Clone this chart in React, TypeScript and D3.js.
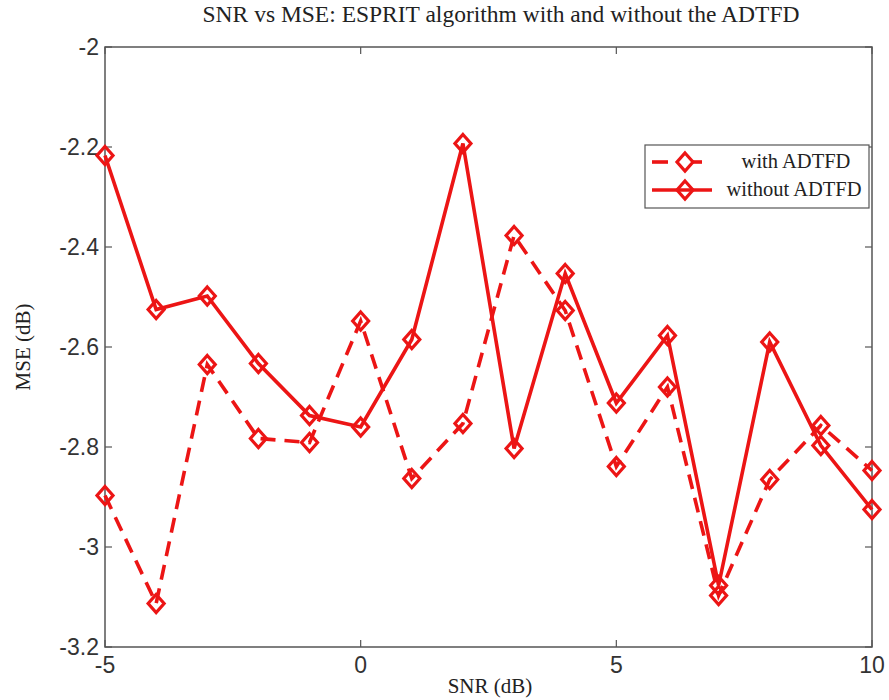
import React from "react";
import * as d3 from "d3";

const snr = [-5, -4, -3, -2, -1, 0, 1, 2, 3, 4, 5, 6, 7, 8, 9, 10];
const withADTFD = [-2.897, -3.113, -2.635, -2.783, -2.791, -2.548, -2.863, -2.753, -2.377, -2.527, -2.839, -2.68, -3.097, -2.865, -2.757, -2.847];
const withoutADTFD = [-2.217, -2.525, -2.498, -2.633, -2.737, -2.76, -2.585, -2.193, -2.803, -2.453, -2.712, -2.577, -3.077, -2.59, -2.797, -2.925];
const xTicks = [-5, 0, 5, 10];
const yTicks = [-2, -2.2, -2.4, -2.6, -2.8, -3, -3.2];
const seriesNames = ["with ADTFD", "without ADTFD"];
const titleText = "SNR vs MSE: ESPRIT algorithm with and without the ADTFD";

const W = 889, H = 700;
const L = 105, R = 872, T = 47, B = 647;
const RED = "#ec1515";
const AX = "#555";

function Diamond({ cx, cy }: { cx: number; cy: number }) {
  const hw = 8, hh = 9;
  return (
    <path
      d={`M${cx},${cy - hh}L${cx + hw},${cy}L${cx},${cy + hh}L${cx - hw},${cy}Z`}
      fill="none"
      stroke={RED}
      strokeWidth={3.2}
    />
  );
}

export default function App() {
  const x = d3.scaleLinear().domain([-5, 10]).range([L, R]);
  const y = d3.scaleLinear().domain([-3.2, -2]).range([B, T]);
  const line = d3.line<number>().x((_, i) => x(snr[i])).y((d) => y(d));
  const serif = "'Liberation Serif', 'Times New Roman', serif";
  const sans = "'Liberation Sans', Arial, sans-serif";
  const tl = 7;
  const lgX = 645, lgY = 145, lgW = 224, lgH = 63;
  const rows = [lgY + 17, lgY + 45];
  return (
    <svg width={W} height={H} style={{ position: "absolute", left: 0, top: 0, background: "#fff" }}>
      <rect x={0} y={0} width={W} height={H} fill="#fff" />
      <text x={501} y={22} textAnchor="middle" fontFamily={serif} fontSize={23.5} fill="#222">{titleText}</text>
      <rect x={L} y={T} width={R - L} height={B - T} fill="none" stroke={AX} strokeWidth={1.5} />
      {xTicks.map((t) => (
        <g key={"x" + t}>
          <line x1={x(t)} x2={x(t)} y1={B} y2={B - tl} stroke={AX} strokeWidth={1.2} />
          <line x1={x(t)} x2={x(t)} y1={T} y2={T + tl} stroke={AX} strokeWidth={1.2} />
          <text x={x(t)} y={673} textAnchor="middle" fontFamily={sans} fontSize={23} fill="#333">{t}</text>
        </g>
      ))}
      {yTicks.map((t) => (
        <g key={"y" + t}>
          <line x1={L} x2={L + tl} y1={y(t)} y2={y(t)} stroke={AX} strokeWidth={1.2} />
          <line x1={R} x2={R - tl} y1={y(t)} y2={y(t)} stroke={AX} strokeWidth={1.2} />
          <text x={L - 6} y={y(t) + 8} textAnchor="end" fontFamily={sans} fontSize={23} fill="#333">{d3.format("")(t).replace("−", "-")}</text>
        </g>
      ))}
      <text x={490} y={693} textAnchor="middle" fontFamily={serif} fontSize={21} fill="#222">SNR (dB)</text>
      <text transform={`translate(30,${(T + B) / 2}) rotate(-90)`} textAnchor="middle" fontFamily={serif} fontSize={21} fill="#222">MSE (dB)</text>
      <path d={line(withADTFD) || ""} fill="none" stroke={RED} strokeWidth={3.6} strokeDasharray="15,9" />
      <path d={line(withoutADTFD) || ""} fill="none" stroke={RED} strokeWidth={3.6} />
      {withADTFD.map((v, i) => <Diamond key={"a" + i} cx={x(snr[i])} cy={y(v)} />)}
      {withoutADTFD.map((v, i) => <Diamond key={"b" + i} cx={x(snr[i])} cy={y(v)} />)}
      <rect x={lgX} y={lgY} width={lgW} height={lgH} fill="#fff" stroke={AX} strokeWidth={1.2} />
      <line x1={652} x2={668} y1={rows[0]} y2={rows[0]} stroke={RED} strokeWidth={3.6} />
      <line x1={692} x2={702} y1={rows[0]} y2={rows[0]} stroke={RED} strokeWidth={3.6} />
      <Diamond cx={685} cy={rows[0]} />
      <line x1={652} x2={712} y1={rows[1]} y2={rows[1]} stroke={RED} strokeWidth={3.6} />
      <Diamond cx={685} cy={rows[1]} />
      <text x={796} y={rows[0] + 6} textAnchor="middle" fontFamily={serif} fontSize={20.5} fill="#222">{seriesNames[0]}</text>
      <text x={794} y={rows[1] + 6} textAnchor="middle" fontFamily={serif} fontSize={20.5} fill="#222">{seriesNames[1]}</text>
    </svg>
  );
}
